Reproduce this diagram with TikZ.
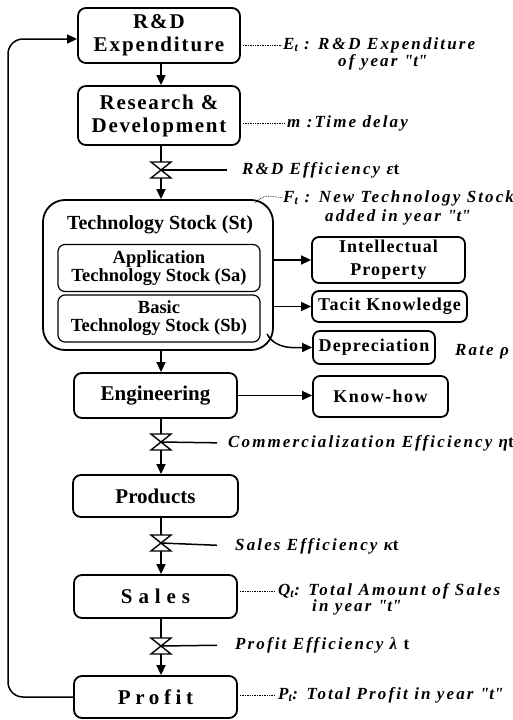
\documentclass[tikz,border=0pt]{standalone}
\usepackage{fontspec}
\setmainfont{Liberation Serif}
\usetikzlibrary{arrows.meta}
\newcommand\rsBoxFont[1]{\bfseries\fontsize{21}{23}\selectfont\addfontfeature{LetterSpace=#1}}
\newcommand\rsRFont[1]{\bfseries\fontsize{18}{23}\selectfont\addfontfeature{LetterSpace=#1}}
\newcommand\rsLabFont{\bfseries\itshape\fontsize{17}{14}\selectfont\addfontfeature{LetterSpace=12.5}}
\newcommand\rsQ{\textquotedbl}
\begin{document}
\begin{tikzpicture}[x=1pt,y=-1pt,
  box/.style={draw, line width=1.8pt, rounded corners=8pt, align=center, inner sep=0pt},
  inbox/.style={draw, line width=1.2pt, rounded corners=7pt, align=center, inner sep=0pt,
     minimum width=202pt, minimum height=47pt, font=\bfseries\fontsize{18.5}{18}\selectfont},
  rbox/.style={draw, line width=1.8pt, rounded corners=7pt, align=center, inner sep=0pt},
  valve/.style={minimum width=20pt, minimum height=16pt, inner sep=0pt, outer sep=0pt},
  lab/.style={anchor=west, inner sep=0pt, font=\rsLabFont},
  ln/.style={line width=1.5pt},
  arr/.style={line width=1.5pt, -{Triangle[length=10pt,width=9pt]}},
  dot/.style={densely dotted, line width=0.7pt},
  vshape/.style={line width=1.4pt}]
\useasboundingbox (0,0) rectangle (513,720);

% main boxes
\node[box, minimum width=162pt, minimum height=55pt, font=\rsBoxFont{9}] (rd) at (159,35.5) {R\&D\\Expenditure};
\node[box, minimum width=162pt, minimum height=59pt, font=\rsBoxFont{8}] (res) at (159,115.5) {Research \&\\Development};
\node[box, rounded corners=22pt, minimum width=230pt, minimum height=150pt] (ts) at (158,275) {};
\node[inner sep=0pt, font=\bfseries\fontsize{20}{22}\selectfont] (tst) at (160,225) {Technology Stock (St)};
\node[inbox] (sa) at (159,268) {Application\\Technology Stock (Sa)};
\node[inbox] (sb) at (159,318.5) {Basic\\Technology Stock (Sb)};
\node[rbox, minimum width=153pt, minimum height=46pt, font=\rsRFont{6}] (ip) at (388.5,260) {Intellectual\\Property};
\node[rbox, minimum width=155pt, minimum height=31pt, font=\rsRFont{6}] (tk) at (389.5,306.5) {Tacit Knowledge};
\node[rbox, minimum width=122pt, minimum height=33pt, font=\rsRFont{6}] (dep) at (374,347.5) {Depreciation};
\node[lab] (rate) at (455,352) {Rate ρ};
\node[box, minimum width=163pt, minimum height=45pt, font=\rsBoxFont{0}] (eng) at (155.5,395.5) {Engineering};
\node[rbox, minimum width=135pt, minimum height=41pt, font=\rsRFont{8}] (kh) at (380.5,396.5) {Know-how};
\node[box, minimum width=165pt, minimum height=42pt, font=\rsBoxFont{0}] (prod) at (155.5,496) {Products};
\node[box, minimum width=163pt, minimum height=43pt, font=\rsBoxFont{28}] (sales) at (155.5,596.5) {Sales};
\node[box, minimum width=163pt, minimum height=42pt, font=\rsBoxFont{22}] (prof) at (155.5,697) {Profit};

% valves
\foreach \n/\y in {v1/170, v2/442, v3/543, v4/646}{
  \node[valve] (\n) at (161,\y) {};
  \draw[vshape] (\n.north west) -- (\n.north east) -- (\n.south west) -- (\n.south east) -- cycle;
}

% labels
\node[lab] (Et1) at (283,45) {E\textsubscript{t}\,\,: R\,\&\,D Expenditure};
\node[lab] (Et2) at (338,62) {of year \rsQ t\rsQ};
\node[lab] (m) at (287,123) {m :Time delay};
\node[lab] (eff1) at (242,170) {R\&D Efficiency ε{\upshape t}};
\node[lab] (Ft1) at (283,198) {F\textsubscript{t} : New Technology Stock};
\node[lab] (Ft2) at (325,217) {added in year \rsQ t\rsQ};
\node[lab] (comm) at (228,443) {Commercialization Efficiency η{\upshape t}};
\node[lab] (seff) at (235,546) {Sales Efficiency κ{\upshape t}};
\node[lab] (Qt1) at (278,591) {Q\textsubscript{t}: Total Amount of Sales};
\node[lab] (Qt2) at (312,607) {in year \rsQ t\rsQ};
\node[lab] (peff) at (235,645) {Profit Efficiency λ {\upshape t}};
\node[lab] (Pt) at (278,695) {P\textsubscript{t}: Total Profit in year \rsQ t\rsQ};

% main flow
\draw[arr] (rd.south -| v1) -- (res.north -| v1);
\draw[ln] (res.south -| v1) -- (v1.north);
\draw[arr] (v1.south) -- (ts.north -| v1);
\draw[arr] (ts.south -| v1) -- (eng.north -| v1);
\draw[ln] (eng.south -| v2) -- (v2.north);
\draw[arr] (v2.south) -- (prod.north -| v2);
\draw[ln] (prod.south -| v3) -- (v3.north);
\draw[arr] (v3.south) -- (sales.north -| v3);
\draw[ln] (sales.south -| v4) -- (v4.north);
\draw[arr] (v4.south) -- (prof.north -| v4);

% feedback loop
\coordinate (lc) at (8,39);
\draw[arr, rounded corners=15pt] (prof.west) -| (lc) -- (rd.west |- lc);

% side outputs
\draw[arr] (ts.east |- ip.west) -- (ip.west);
\draw[arr] (ts.east |- tk.west) -- (tk.west);
\coordinate (dst) at (267,334);
\draw[arr] (dst) to[out=-60,in=180] (dep.west);
\draw[arr] (eng.east) -- (kh.west |- eng.east);

% efficiency lines
\draw[ln, shorten >=15pt] (v1.center) -- (eff1.west);
\draw[ln, shorten >=11pt] (v2.center) -- (comm.west);
\draw[ln, shorten >=18pt] (v3.center) -- (seff.west);
\draw[ln, shorten >=18pt] (v4.center) -- (peff.west);

% dotted annotation leaders
\draw[dot, shorten <=2pt, shorten >=1pt] (rd.east |- Et1.west) -- (Et1.west);
\draw[dot, shorten <=2pt, shorten >=2pt] (res.east |- m.west) -- (m.west);
\coordinate (fst) at (255,203);
\draw[dot] (fst) .. controls (264,195) .. (Ft1.west);
\draw[dot, shorten <=2pt, shorten >=3pt] (sales.east |- Qt1.west) -- (Qt1.west);
\draw[dot, shorten <=2pt, shorten >=3pt] (prof.east |- Pt.west) -- (Pt.west);
\end{tikzpicture}
\end{document}
